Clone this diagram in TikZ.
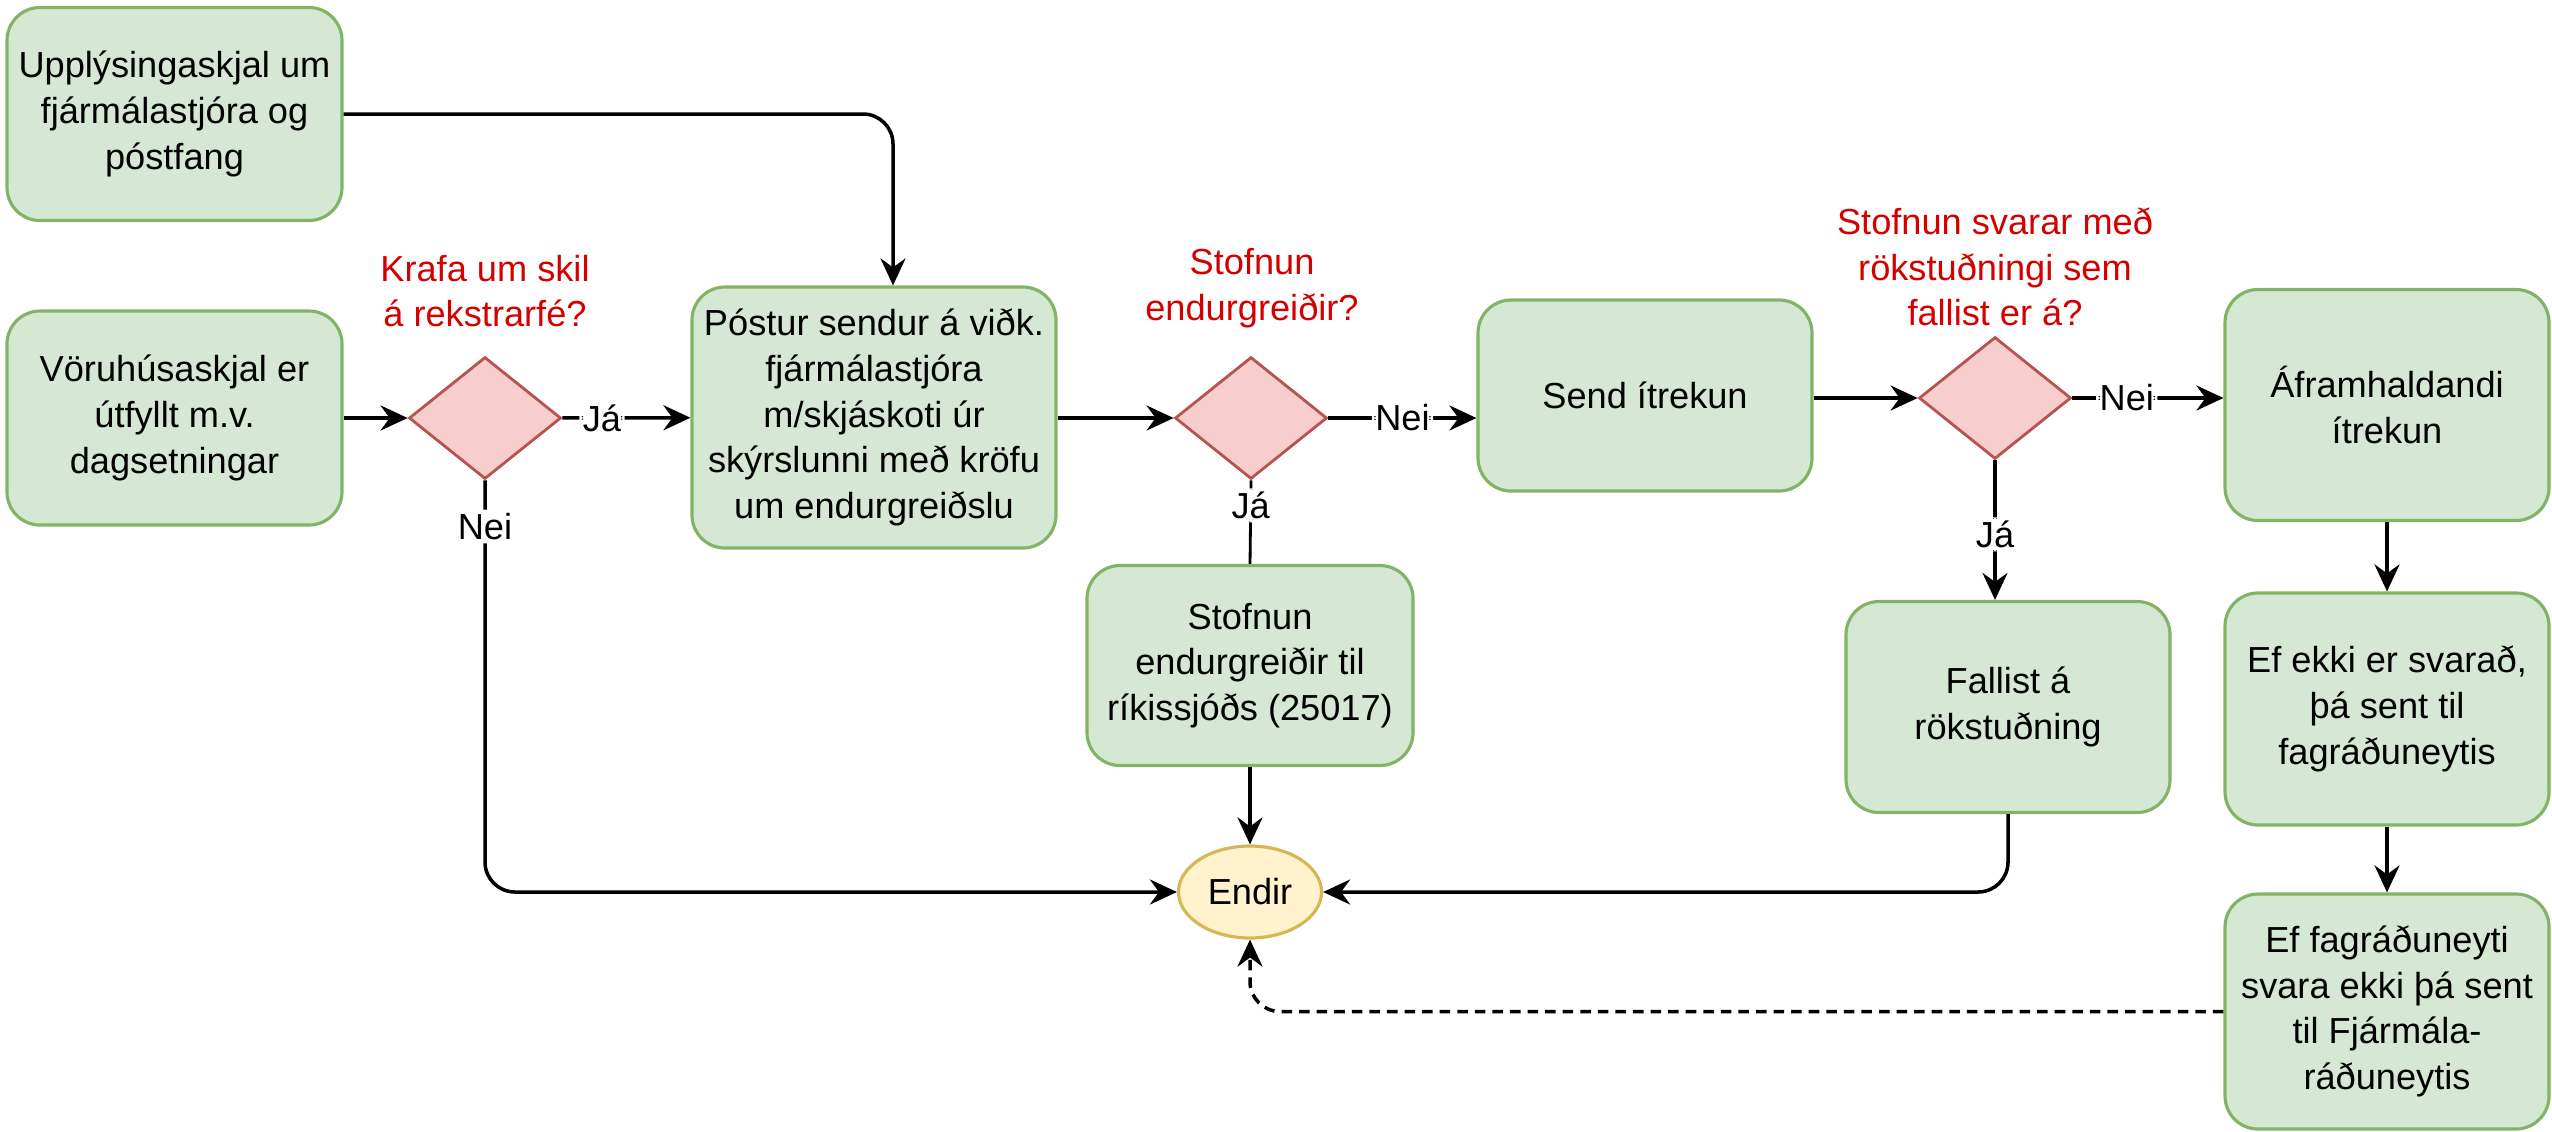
\documentclass[tikz,border=0pt]{standalone}
\usepackage{fontspec}
\setmainfont{Liberation Sans}
\usepackage{tikz}
\usetikzlibrary{arrows.meta,positioning,shapes.geometric}
\definecolor{dGreen}{HTML}{D5E8D4}
\definecolor{dGreenLine}{HTML}{82B366}
\definecolor{dRed}{HTML}{F8CECC}
\definecolor{dRedLine}{HTML}{B85450}
\definecolor{dYellow}{HTML}{FFF2CC}
\definecolor{dYellowLine}{HTML}{D6B656}
\definecolor{dQuestion}{HTML}{D40000}

\begin{document}
\begin{tikzpicture}[
        box/.style={draw=dGreenLine, fill=dGreen, line width=0.9pt, rounded corners=3.3mm,
                    align=center, minimum width=3.24cm, inner sep=1pt,
                    font=\fontsize{10.3}{13}\selectfont},
        dia/.style={draw=dRedLine, fill=dRed, line width=0.8pt, shape=diamond,
                    minimum width=1.52cm, minimum height=1.22cm, inner sep=0pt},
        quest/.style={text=dQuestion, align=center, font=\fontsize{10.3}{13}\selectfont},
        lbl/.style={fill=white, inner sep=1pt, font=\fontsize{10.3}{13}\selectfont},
        arr/.style={-{Stealth[length=2.7mm, width=2.5mm, inset=0.9mm]}, line width=1pt, rounded corners=3mm},
        ln/.style={line width=0.8pt, rounded corners=3mm},
    ]
        \useasboundingbox (0,0) rectangle (25.52,-11.31);

        \node[box, minimum width=3.35cm, minimum height=2.13cm] (info) at (1.745,-1.14) {Upplýsingaskjal um\\fjármálastjóra og\\póstfang};
        \node[box, minimum width=3.35cm, minimum height=2.14cm] (vorur) at (1.745,-4.18) {Vöruhúsaskjal er\\útfyllt m.v.\\dagsetningar};
        \node[dia] (krafa) at (4.85,-4.18) {};
        \node[quest] (krafaq) at (4.85,-2.91) {Krafa um skil\\á rekstrarfé?};
        \node[box, minimum width=3.64cm, minimum height=2.61cm] (postur) at (8.74,-4.175) {Póstur sendur á viðk.\\fjármálastjóra\\m/skjáskoti úr\\skýrslunni með kröfu\\um endurgreiðslu};
        \node[dia] (endurgr) at (12.51,-4.18) {};
        \node[quest] (endurgrq) at (12.52,-2.88) {Stofnun\\endurgreiðir?};
        \node[box, minimum width=3.34cm, minimum height=1.91cm] (itrekun) at (16.45,-3.955) {Send ítrekun};
        \node[dia] (svar) at (19.95,-3.98) {};
        \node[quest] (svarq) at (19.95,-2.67) {Stofnun svarar með\\rökstuðningi sem\\fallist er á?};
        \node[box, minimum height=2.31cm] (framh) at (23.87,-4.05) {Áframhaldandi\\ítrekun};
        \node[box, minimum height=2.32cm] (ekkisv) at (23.87,-7.09) {Ef ekki er svarað,\\þá sent til\\fagráðuneytis};
        \node[box, minimum height=2.35cm] (fagr) at (23.87,-10.115) {Ef fagráðuneyti\\svara ekki þá sent\\til Fjármála-\\ráðuneytis};
        \node[box, minimum height=2.11cm] (fallist) at (20.08,-7.07) {Fallist á\\rökstuðning};
        \node[box, minimum width=3.26cm, minimum height=2.0cm] (rikis) at (12.50,-6.655) {Stofnun\\endurgreiðir til\\ríkissjóðs (25017)};
        \node[ellipse, draw=dYellowLine, fill=dYellow, line width=0.9pt, minimum width=1.43cm, minimum height=0.92cm,
              inner sep=0pt, font=\fontsize{10.3}{13}\selectfont] (endir) at (12.50,-8.92) {Endir};

        \draw[arr] (info.east) -| ([xshift=1.9mm]postur.north);
        \draw[arr] (vorur) -- (krafa);
        \draw[arr] (krafa) -- node[lbl, pos=0.31] {Já} (postur);
        \draw[arr] (krafa.south) |- node[lbl, pos=0.056] {Nei} (endir.west);
        \draw[arr] (postur.east |- endurgr) -- (endurgr);
        \draw[arr] (endurgr) -- node[lbl] {Nei} (itrekun.west |- endurgr);
        \draw[ln] (endurgr.south) -- node[lbl, pos=0.3] {Já} (rikis.north);
        \draw[arr] (rikis) -- (endir);
        \draw[arr] (itrekun.east |- svar) -- (svar);
        \draw[arr] (svar) -- node[lbl, pos=0.36] {Nei} (framh.west |- svar);
        \draw[arr] (svar.south) -- node[lbl, pos=0.53] {Já} (svar.south |- fallist.north);
        \draw[arr] (fallist.south) |- (endir.east);
        \draw[arr] (framh) -- (ekkisv);
        \draw[arr] (ekkisv) -- (fagr);
        \draw[arr, dash pattern=on 3pt off 2pt] (fagr.west) -| (endir.south);
    \end{tikzpicture}
\end{document}
